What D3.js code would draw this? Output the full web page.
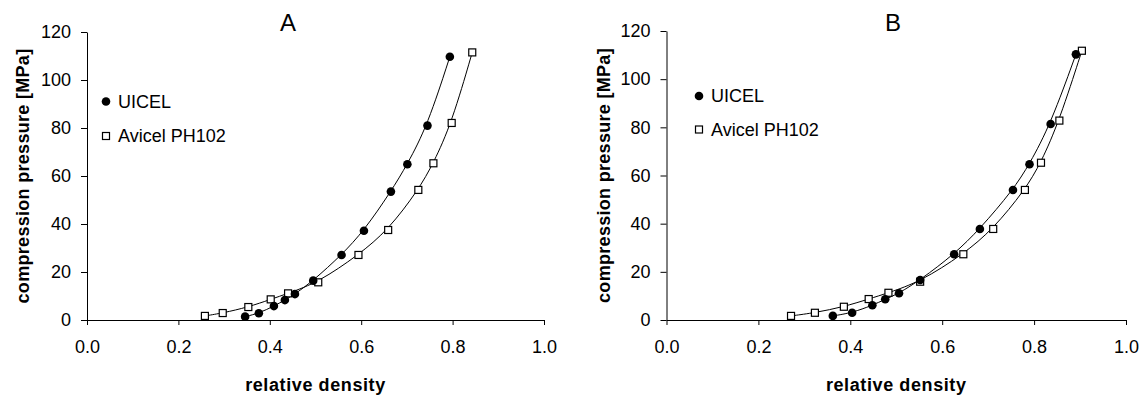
<!DOCTYPE html>
<html>
<head>
<meta charset="utf-8">
<script src="https://cdn.jsdelivr.net/npm/d3@7"></script>
<style>
    body { margin: 0; background: #fff; }
    text { font-family: Arial, "Liberation Sans", sans-serif; fill: #000; }
</style>
</head>
<body>
<div id="chart"></div>
<script>

// panel A - relative density vs compression pressure
var uicelDensityA   = [0.346, 0.376, 0.409, 0.433, 0.455, 0.495, 0.557, 0.606, 0.665, 0.701, 0.745, 0.794];
var uicelPressureA  = [1.4, 2.8, 5.8, 8.3, 10.8, 16.4, 27.1, 37.2, 53.5, 64.9, 81.0, 109.7];
var avicelDensityA  = [0.258, 0.297, 0.353, 0.402, 0.440, 0.506, 0.594, 0.659, 0.725, 0.758, 0.798, 0.843];
var avicelPressureA = [1.7, 2.9, 5.4, 8.6, 11.1, 15.7, 27.1, 37.5, 54.2, 65.3, 82.1, 111.5];

// panel B
var uicelDensityB   = [0.362, 0.404, 0.448, 0.476, 0.506, 0.552, 0.626, 0.682, 0.754, 0.790, 0.836, 0.891];
var uicelPressureB  = [1.7, 3.0, 6.1, 8.6, 11.1, 16.6, 27.3, 37.8, 54.0, 64.7, 81.4, 110.3];
var avicelDensityB  = [0.271, 0.323, 0.386, 0.440, 0.483, 0.552, 0.646, 0.711, 0.780, 0.815, 0.855, 0.904];
var avicelPressureB = [1.7, 3.0, 5.5, 8.7, 11.3, 15.9, 27.3, 37.8, 54.0, 65.3, 82.8, 111.8];

var seriesNames = ["UICEL", "Avicel PH102"];
var xTicks = [0, 0.2, 0.4, 0.6, 0.8, 1.0];
var yTicks = [0, 20, 40, 60, 80, 100, 120];

var svg = d3.select("#chart").append("svg")
    .attr("width", 1144)
    .attr("height", 396);

function zip(xs, ys) {
    return xs.map(function(x, i) { return { x: x, y: ys[i] }; });
}

CompressionPanel = function(_svg, _config) {
    this.svg = _svg;
    this.config = _config;
    this.initVis();
}

CompressionPanel.prototype.initVis = function() {
    var vis = this;
    var c = vis.config;

    vis.x = d3.scaleLinear().domain([0, 1]).range([c.left, c.right]);
    vis.y = d3.scaleLinear().domain([0, 120]).range([c.bottom, c.top]);

    vis.g = vis.svg.append("g");

    var xAxis = d3.axisBottom(vis.x)
        .tickValues(xTicks)
        .tickFormat(d3.format(".1f"))
        .tickSizeInner(5).tickSizeOuter(0)
        .tickPadding(15);

    var yAxis = d3.axisLeft(vis.y)
        .tickValues(yTicks)
        .tickSizeInner(6).tickSizeOuter(0)
        .tickPadding(10);

    vis.g.append("g")
        .attr("transform", "translate(0," + c.bottom + ")")
        .call(xAxis);

    vis.g.append("g")
        .attr("transform", "translate(" + c.left + ",0)")
        .call(yAxis);

    vis.g.selectAll(".domain, .tick line")
        .attr("stroke", "#000")
        .attr("stroke-width", 1);

    vis.g.selectAll(".tick text")
        .attr("font-size", 18)
        .attr("font-family", "Arial, 'Liberation Sans', sans-serif");

    // axis titles
    vis.g.append("text")
        .attr("x", (c.left + c.right) / 2)
        .attr("y", 391)
        .attr("text-anchor", "middle")
        .attr("font-size", 18)
        .attr("font-weight", "bold")
        .attr("letter-spacing", 0.6)
        .text("relative density");

    vis.g.append("text")
        .attr("transform", "translate(" + c.yLabelX + "," + ((c.top + c.bottom) / 2) + ") rotate(-90)")
        .attr("text-anchor", "middle")
        .attr("font-size", 18)
        .attr("font-weight", "bold")
        .attr("letter-spacing", 0.3)
        .text("compression pressure [MPa]");

    vis.g.append("text")
        .attr("x", c.titleX)
        .attr("y", 31)
        .attr("text-anchor", "middle")
        .attr("font-size", 24)
        .text(c.title);

    vis.updateVis();
}

CompressionPanel.prototype.updateVis = function() {
    var vis = this;
    var c = vis.config;

    var line = d3.line()
        .x(function(d) { return vis.x(d.x); })
        .y(function(d) { return vis.y(d.y); })
        .curve(d3.curveBasis);

    [c.uicel, c.avicel].forEach(function(data) {
        vis.g.append("path")
            .datum(data)
            .attr("d", line)
            .attr("fill", "none")
            .attr("stroke", "#000")
            .attr("stroke-width", 1);
    });

    vis.g.selectAll(".sq")
        .data(c.avicel)
        .enter().append("rect")
        .attr("class", "sq")
        .attr("x", function(d) { return vis.x(d.x) - 3.5; })
        .attr("y", function(d) { return vis.y(d.y) - 3.5; })
        .attr("width", 7)
        .attr("height", 7)
        .attr("fill", "#fff")
        .attr("stroke", "#000")
        .attr("stroke-width", 1.2);

    vis.g.selectAll(".dot")
        .data(c.uicel)
        .enter().append("circle")
        .attr("class", "dot")
        .attr("cx", function(d) { return vis.x(d.x); })
        .attr("cy", function(d) { return vis.y(d.y); })
        .attr("r", 4.3)
        .attr("fill", "#000");

    // legend
    var lg = vis.g.append("g")
        .attr("transform", "translate(" + c.legendX + "," + c.legendY + ")");

    lg.append("circle")
        .attr("cx", 0).attr("cy", 0).attr("r", 4.3)
        .attr("fill", "#000");
    lg.append("text")
        .attr("x", 12).attr("y", 6)
        .attr("font-size", 18)
        .text(seriesNames[0]);

    lg.append("rect")
        .attr("x", -3.5).attr("y", c.legendGap - 3.5)
        .attr("width", 7).attr("height", 7)
        .attr("fill", "#fff").attr("stroke", "#000").attr("stroke-width", 1.2);
    lg.append("text")
        .attr("x", 12).attr("y", c.legendGap + 6)
        .attr("font-size", 18)
        .text(seriesNames[1]);
}

new CompressionPanel(svg, {
    title: "A", titleX: 288,
    left: 87, right: 544, top: 32, bottom: 320,
    yLabelX: 29,
    legendX: 106, legendY: 101.5, legendGap: 34.5,
    uicel: zip(uicelDensityA, uicelPressureA),
    avicel: zip(avicelDensityA, avicelPressureA)
});

new CompressionPanel(svg, {
    title: "B", titleX: 893,
    left: 666.5, right: 1126, top: 31, bottom: 320,
    yLabelX: 610,
    legendX: 699, legendY: 96, legendGap: 33.5,
    uicel: zip(uicelDensityB, uicelPressureB),
    avicel: zip(avicelDensityB, avicelPressureB)
});

</script>
</body>
</html>
